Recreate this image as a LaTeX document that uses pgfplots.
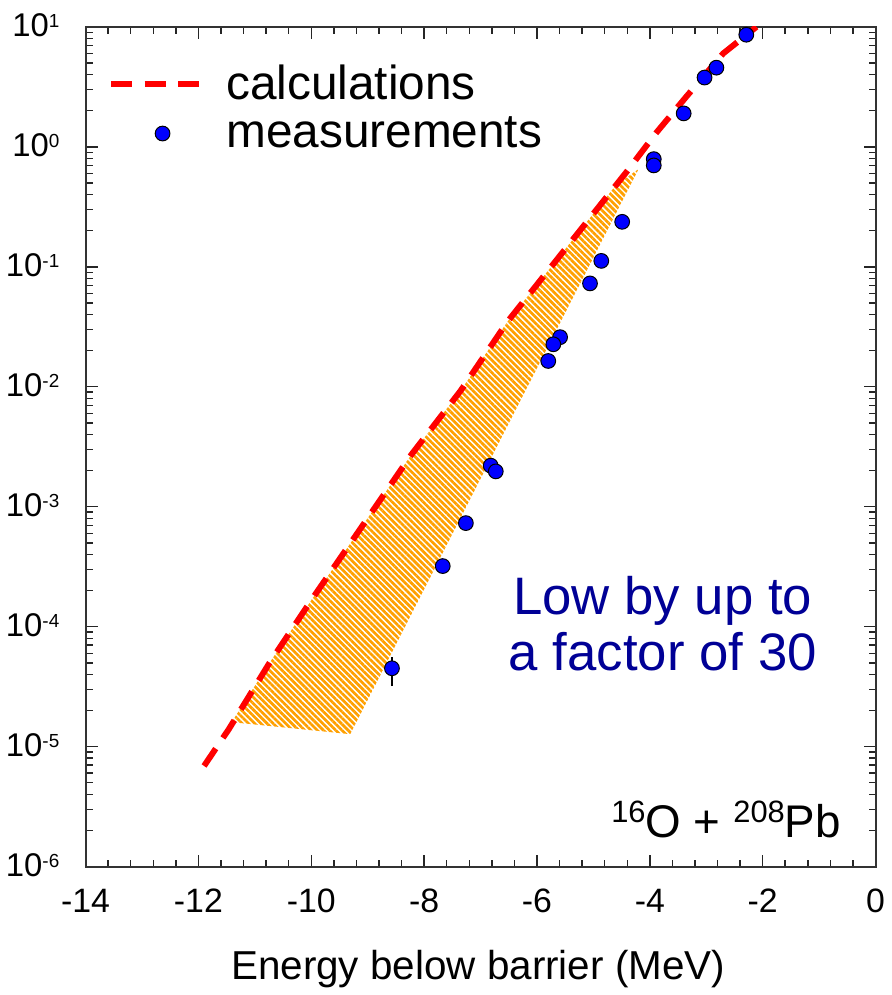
\documentclass[border=0pt]{standalone}
\usepackage{fontspec}
\setmainfont{Liberation Sans}
\usepackage{pgfplots}
\pgfplotsset{compat=1.18}
\usetikzlibrary{patterns.meta}

\definecolor{hatchorange}{RGB}{255,160,0}
\definecolor{navytxt}{RGB}{0,0,150}
\definecolor{calcred}{RGB}{255,0,0}
\definecolor{ptblue}{RGB}{0,0,255}

% y tick label 10^n in text font
\newcommand{\tenpow}[1]{10\raisebox{4.6pt}{\fontsize{9.5}{9.5}\selectfont #1}}
\newcommand{\sups}[1]{\raisebox{7.5pt}{\fontsize{15.5}{15.5}\selectfont #1}}

\pgfplotsset{
  calcleg/.style={legend image code/.code={\path[draw=none,fill=none] (0pt,0pt) -- (57pt,0pt);\draw[##1] (0pt,0pt) -- (46pt,0pt);}},
  measleg/.style={legend image code/.code={\path[draw=none,fill=none] (0pt,0pt) -- (57pt,0pt);\draw[mark repeat=2,mark phase=2,##1] plot coordinates {(0pt,0pt) (26pt,0pt) (52pt,0pt)};}},
}

\begin{document}
\begin{tikzpicture}
\begin{axis}[
  name=ax,
  scale only axis, width=397pt, height=422pt,
  xmin=-14, xmax=0,
  ymode=log, ymin=1e-6, ymax=10,
  xtick={-14,-12,-10,-8,-6,-4,-2,0},
  xticklabels={-14,-12,-10,-8,-6,-4,-2,0},
  minor x tick num=4,
  ytick={1e-6,1e-5,1e-4,1e-3,1e-2,1e-1,1,10},
  yticklabels={\tenpow{-6},\tenpow{-5},\tenpow{-4},\tenpow{-3},\tenpow{-2},\tenpow{-1},\tenpow{0},\tenpow{1}},
  xticklabel style={font=\fontsize{17}{17}\selectfont, anchor=base, yshift=-23pt},
  yticklabel style={font=\fontsize{16.5}{16.5}\selectfont, anchor=base east, inner sep=0pt, xshift=-13pt, yshift=-5pt},
  xlabel={Energy below barrier (MeV)},
  xlabel style={font=\fontsize{20.3}{20.3}\selectfont, at={(axis description cs:0.497,0)}, anchor=base, yshift=-57pt},
  major tick length=6pt, minor tick length=3.5pt,
  every tick/.style={black!85, line width=0.75pt},
  axis line style={black!80, line width=1pt},
  legend style={at={(axis description cs:0,1)}, anchor=north west, xshift=8pt, yshift=-16pt,
    draw=none, fill=none, font=\fontsize{24}{24}\selectfont, row sep=5pt,
    nodes={inner sep=1pt}},
  legend cell align=left,
  clip=true,
]
% hatched band between calculation and measurements
\addplot[draw=none, pattern={Lines[angle=-45,distance=2.2pt,line width=1.35pt]}, pattern color=hatchorange, forget plot]
  coordinates {(-11.41,1.6e-5) (-10.75,4.9e-5) (-10.0,1.66e-4) (-8.23,2.7e-3) (-7.35,9.3e-3)
               (-6.52,3.5e-2) (-5.59,0.124) (-4.60,0.48) (-4.20,0.652) (-9.31,1.27e-5) (-11.41,1.6e-5)};

% calculations
\addplot[calcred, line width=3pt, dash pattern=on 10.5pt off 6.5pt, calcleg]
  coordinates {(-11.9,6.9e-6) (-11.46,1.4e-5) (-10.75,4.9e-5) (-10.0,1.66e-4) (-8.23,2.7e-3)
               (-7.35,9.3e-3) (-6.52,3.5e-2) (-5.59,0.124) (-4.41,0.62) (-3.88,1.32)
               (-3.35,2.63) (-2.70,6.0) (-2.11,10.0)};
\addlegendentry{calculations}

% error bar of the lowest point
\addplot[black, line width=0.9pt, forget plot] coordinates {(-8.57,3.2e-5) (-8.57,5.6e-5)};

% measurements
\addplot[only marks, mark=*, mark size=3.7pt, mark options={fill=ptblue, draw=black, line width=0.5pt}, measleg]
  coordinates {(-2.29,8.6) (-2.82,4.57) (-3.03,3.78) (-3.40,1.90) (-3.93,0.79) (-3.93,0.70)
               (-4.49,0.237) (-4.86,0.112) (-5.06,0.0727) (-5.59,0.0259) (-5.71,0.0226)
               (-5.80,0.0164) (-6.82,0.0022) (-6.73,0.00197) (-7.26,0.00073) (-7.67,0.00032)
               (-8.57,0.000045)};
\addlegendentry{measurements}

\node[text=navytxt, align=center, font=\fontsize{26.5}{28.5}\selectfont] at (axis cs:-3.77,1.06e-4)
  {Low by up to\\a factor of 30};
\node[anchor=base east, font=\fontsize{23}{23}\selectfont] at (axis cs:-0.49,1.75e-6)
  {\sups{16}O + \sups{208}Pb};
\end{axis}
\useasboundingbox ([xshift=-43pt,yshift=-62pt]ax.south west) rectangle ([xshift=4.5pt,yshift=13.5pt]ax.north east);
\end{tikzpicture}
\end{document}
